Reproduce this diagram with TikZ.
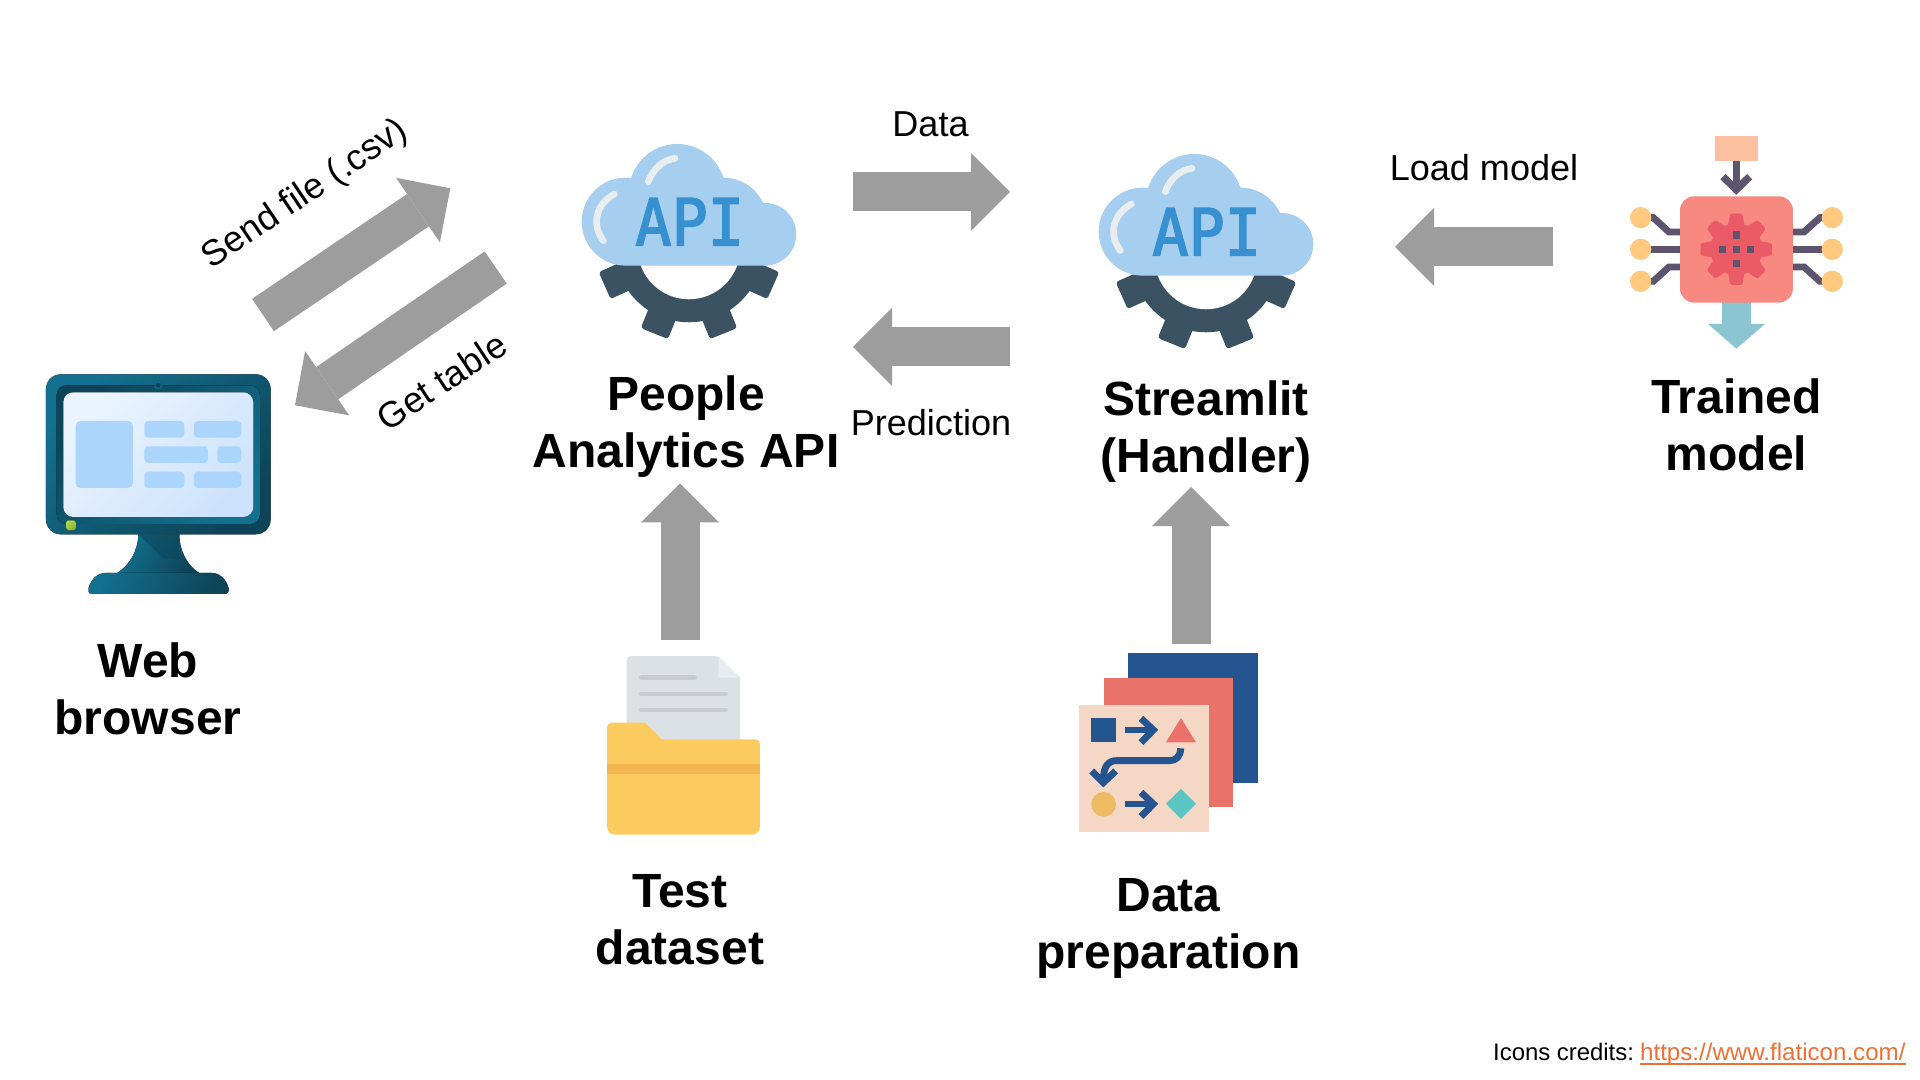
\documentclass[tikz,border=0pt]{standalone}
\usepackage{fontspec}
\usetikzlibrary{arrows.meta,calc}
\setmainfont{Liberation Sans}
\newfontfamily\apifont[FakeBold=2.6]{DejaVu Sans Mono}
\definecolor{arrowgrey}{HTML}{9D9D9D}
\definecolor{cloudblue}{HTML}{A6CEEE}
\definecolor{apiblue}{HTML}{3790D0}
\definecolor{gloss}{HTML}{E8EEF0}
\definecolor{gearslate}{HTML}{3A5262}
\definecolor{mona}{HTML}{13708F}
\definecolor{monb}{HTML}{0E4458}
\definecolor{screena}{HTML}{EAF4FF}
\definecolor{screenb}{HTML}{CDE3FC}
\definecolor{tile}{HTML}{ABD5FD}
\definecolor{leda}{HTML}{B4D450}
\definecolor{ledb}{HTML}{85B52F}
\definecolor{wire}{HTML}{5D5470}
\definecolor{chip}{HTML}{F78980}
\definecolor{chipgear}{HTML}{EB5B67}
\definecolor{pad}{HTML}{FFC980}
\definecolor{peach}{HTML}{FBC0A0}
\definecolor{teal}{HTML}{8CC5D2}
\definecolor{docgrey}{HTML}{DCE1E5}
\definecolor{docfold}{HTML}{E7ECF1}
\definecolor{docline}{HTML}{C9CBCF}
\definecolor{folder}{HTML}{FCCB60}
\definecolor{folderband}{HTML}{F3B651}
\definecolor{deepblue}{HTML}{255591}
\definecolor{coral}{HTML}{E9736A}
\definecolor{sand}{HTML}{F5D7C5}
\definecolor{amber}{HTML}{EDBB62}
\definecolor{aqua}{HTML}{5AC5C3}
\definecolor{linkorange}{HTML}{F07033}
\tikzset{
  px/.style={x=0.05cm,y=-0.05cm},
  zoomed/.style={x=0.0166667cm,y=-0.0166667cm},
  blockarrow/.style={draw=arrowgrey,line width=55.5pt,line cap=butt,
    -{Triangle[length=55.5pt,width=111pt,line width=0pt,fill=arrowgrey]}},
  biglabel/.style={font=\fontsize{68.3}{81}\selectfont\bfseries,align=center,inner sep=0pt,text=black},
  smalllabel/.style={font=\fontsize{51.3}{59}\selectfont,inner sep=0pt,text=black},
  glossline/.style={draw=gloss,line width=9.5pt,line cap=round},
}
\newcommand{\apiicon}[2]{%
  \begin{scope}[shift={(#1,#2)},zoomed]
    \foreach \a in {-66,-22,22,66}{
      \fill[gearslate,rotate around={\a:(387,384)},rounded corners=4pt] (343,590) rectangle (431,661);
    }
    \fill[gearslate] (387,384) circle (223);
    \fill[white] (387,384) circle (154);
    \fill[cloudblue] (197,305) circle (132) (352,217) circle (145) (490,305) circle (132) (615,343) circle (94)
      (197,437) rectangle (615,250);
    \draw[glossline] (345,115) .. controls (310,120) and (280,145) .. (265,185);
    \draw[glossline] (163,222) .. controls (105,255) and (95,315) .. (130,362);
    \node[font=\fontsize{92}{92}\selectfont\apifont,text=apiblue,anchor=base,inner sep=0pt,xscale=.93] at (389,376) {API};
  \end{scope}}
\begin{document}
\begin{tikzpicture}[px]
\useasboundingbox (0,0) rectangle (1920,1080);
\fill[white] (0,0) rectangle (1920,1080);

% ---------- web browser icon
\begin{scope}[shift={(0,340)},zoomed]
  \fill[rounded corners=21pt,left color=mona,middle color=mona,right color=monb,shading angle=45] (138,103) rectangle (812,583);
  \fill[rounded corners=14pt,left color=monb,right color=mona,shading angle=45] (170,136) rectangle (780,552);
  \fill[mona!70!monb] (475,136) circle (13);
  \fill[monb] (475,136) circle (7);
  \fill[rounded corners=14pt,left color=screena,right color=screenb,shading angle=45] (190,157) rectangle (760,531);
  \fill[tile,rounded corners=7pt] (227,243) rectangle (399,444);
  \foreach \xa/\ya/\xb/\yb in {433/243/553/293,582/243/724/293,433/319/624/369,652/319/724/369,433/395/553/444,582/395/724/444}{
    \fill[tile,rounded corners=5.5pt] (\xa,\ya) rectangle (\xb,\yb);
  }
  \fill[rounded corners=4pt,left color=leda,right color=ledb,shading angle=45] (198,541) rectangle (228,571);
  \fill[left color=mona,right color=monb,shading angle=60]
    (415,583) -- (538,583) .. controls (538,630) and (560,675) .. (597,699) -- (352,699) .. controls (390,675) and (415,630) .. (415,583) -- cycle;
  \fill[monb,opacity=.55] (415,583) -- (538,583) -- (538,660) -- (490,655) -- cycle;
  \fill[left color=mona,middle color=mona,right color=monb,shading angle=70]
    (275,762) .. controls (265,762) and (263,750) .. (266,743) .. controls (275,715) and (295,699) .. (315,699)
    -- (635,699) .. controls (660,699) and (680,720) .. (686,745) .. controls (688,755) and (684,762) .. (675,762) -- cycle;
\end{scope}

% ---------- API clouds
\apiicon{560}{120}
\apiicon{1077}{130}

% ---------- trained model icon
\begin{scope}[shift={(1620,120)},zoomed]
  \fill[peach] (285,48) rectangle (413,123);
  \draw[wire,line width=9.8pt] (349,123) -- (349,205);
  \draw[wire,line width=10.5pt,miter limit=4] (309,170) -- (349,209) -- (389,170);
  \begin{scope}[wire,line width=9.8pt]
    \draw (62,388) -- (637,388);
    \draw (62,293) -- (100,293) -- (147,336) -- (552,336) -- (600,293) -- (637,293);
    \draw (62,484) -- (100,484) -- (147,441) -- (552,441) -- (600,484) -- (637,484);
  \end{scope}
  \foreach \yy in {293,388,484}{
    \fill[pad] (62,\yy) circle (32);
    \fill[pad] (637,\yy) circle (32);
  }
  \fill[teal] (307,540) rectangle (392,612);
  \fill[teal] (264,612) -- (435,612) -- (349,686) -- cycle;
  \fill[chip,rounded corners=20pt] (180,229) rectangle (519,548);
  \fill[chipgear] (349,388) circle (78);
  \foreach \a in {0,45,...,315}{
    \fill[chipgear,rotate around={\a:(349,388)},rounded corners=2pt] (331,281) -- (367,281) -- (376,328) -- (322,328) -- cycle;
  }
  \foreach \xx/\yy in {349/345,307/388,349/388,391/388,349/430}{
    \fill[wire] (\xx-11,\yy-11) rectangle (\xx+11,\yy+11);
  }
\end{scope}

% ---------- test dataset icon
\begin{scope}[shift={(590,640)},zoomed]
  \fill[docgrey,rounded corners=6pt] (110,320) -- (110,48) -- (385,48) [sharp corners] -- (450,113) -- (450,320) -- cycle;
  \fill[docfold] (385,48) -- (450,113) -- (385,113) -- cycle;
  \begin{scope}[docline,line width=7pt,line cap=round]
    \draw (155,113) -- (313,113);
    \draw (155,162) -- (407,162);
    \draw (155,210) -- (407,210);
  \end{scope}
  \fill[folder] (51,265) .. controls (51,255) and (58,248) .. (68,248) -- (165,248) -- (215,298) -- (495,298)
    .. controls (504,298) and (510,304) .. (510,313) -- (510,560) .. controls (510,574) and (498,584) .. (486,584)
    -- (75,584) .. controls (62,584) and (51,574) .. (51,560) -- cycle;
  \fill[folderband] (51,372) rectangle (510,401);
\end{scope}

% ---------- data preparation icon
\begin{scope}[shift={(1070,640)},zoomed]
  \fill[deepblue] (175,39) rectangle (564,428);
  \fill[coral] (101,113) rectangle (490,502);
  \fill[sand] (27,196) rectangle (416,576);
  \fill[deepblue] (64,234) rectangle (138,307);
  \fill[coral] (333,234) -- (378,307) -- (288,307) -- cycle;
  \fill[amber] (101,493) circle (37);
  \fill[aqua] (333,447) -- (378,492) -- (333,537) -- (288,492) -- cycle;
  \begin{scope}[deepblue,line width=9.8pt]
    \draw (165,270) -- (245,270);
    \draw (213,235) -- (250,270) -- (213,308);
    \draw (165,492) -- (245,492);
    \draw (213,457) -- (250,492) -- (213,530);
    \draw (332,325) .. controls (332,350) and (318,362) .. (298,362) -- (140,362) .. controls (115,362) and (100,378) .. (100,422);
    \draw (65,393) -- (100,428) -- (137,393);
  \end{scope}
\end{scope}

% ---------- connector end points
\coordinate (sendA) at (263,315);     \coordinate (sendB) at (450.3,188.3);
\coordinate (getA)  at (495.7,267.5); \coordinate (getB)  at (295,405.3);
\coordinate (dataA) at (852.7,191.8); \coordinate (dataB) at (1010,191.8);
\coordinate (predA) at (1010,346.8);  \coordinate (predB) at (853,346.8);
\coordinate (loadA) at (1553,246.8);  \coordinate (loadB) at (1395,246.8);
\coordinate (testA) at (680,639.7);   \coordinate (testB) at (680,483.3);
\coordinate (prepA) at (1191,643.7);  \coordinate (prepB) at (1191,487);

\draw[blockarrow] (sendA) -- (sendB);
\draw[blockarrow] (getA) -- (getB);
\draw[blockarrow] (dataA) -- (dataB);
\draw[blockarrow] (predA) -- (predB);
\draw[blockarrow] (loadA) -- (loadB);
\draw[blockarrow] (testA) -- (testB);
\draw[blockarrow] (prepA) -- (prepB);

% ---------- labels
\node[smalllabel,rotate=34] (send) at (305.5,195) {Send file (.csv)};
\node[smalllabel,rotate=33.5] (get) at (441.7,381) {Get table};
\node[smalllabel,anchor=base] (data) at (930.5,136) {Data};
\node[smalllabel,anchor=base] (pred) at (931,435) {Prediction};
\node[smalllabel,anchor=base] (load) at (1484,180) {Load model};

\node[biglabel] (people) at (686,427) {People\\Analytics API};
\node[biglabel] (streamlit) at (1206,432) {Streamlit\\(Handler)};
\node[biglabel] (trained) at (1736.5,425) {Trained\\model};
\node[biglabel] (web) at (148,689) {Web\\browser};
\node[biglabel] (test) at (680,919.5) {Test\\dataset};
\node[biglabel] (prep) at (1168.5,928.5) {Data\\preparation};

\node[font=\fontsize{34}{40}\selectfont,anchor=base west,inner sep=0pt] (credit) at (1493,1060) {Icons credits:};
\node[font=\fontsize{34.3}{40}\selectfont,anchor=base west,inner sep=0pt,text=linkorange] (url) at (1640,1060) {https://www.flaticon.com/};
\draw[linkorange,line width=2.8pt] ([yshift=-5.5pt]url.base west) -- ([yshift=-5.5pt]url.base east);
\end{tikzpicture}
\end{document}
